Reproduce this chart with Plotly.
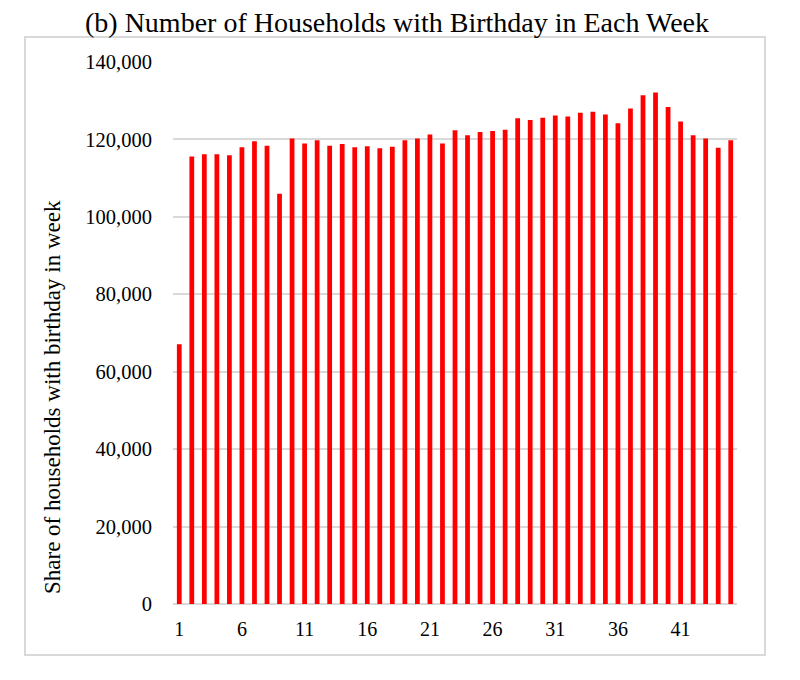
import plotly.graph_objects as go

weeks = [1, 2, 3, 4, 5, 6, 7, 8, 9, 10, 11, 12, 13, 14, 15, 16, 17, 18, 19, 20,
         21, 22, 23, 24, 25, 26, 27, 28, 29, 30, 31, 32, 33, 34, 35, 36, 37, 38, 39, 40,
         41, 42, 43, 44, 45]
households = [67100, 115600, 116200, 116200, 115900, 118000, 119500, 118350, 106000, 120250,
              118950, 119800, 118350, 118800, 118000, 118250, 117750, 118100, 119800, 120250,
              121300, 118950, 122400, 121050, 121900, 122150, 122500, 125450, 125000, 125600,
              126200, 125950, 126900, 127150, 126450, 124200, 128000, 131400, 132150, 128350,
              124650, 121050, 120250, 117850, 119800]
x_tick_vals = [1, 6, 11, 16, 21, 26, 31, 36, 41]
y_tick_vals = [0, 20000, 40000, 60000, 80000, 100000, 120000, 140000]

title_text = "(b) Number of Households with Birthday in Each Week"
y_title_text = "Share of households with birthday in week"

FONT = "Liberation Serif, Times New Roman, serif"
GRID = "#d9d9d9"

W, H = 792, 672
L, T = 165, 54
PW, PH = 564, 542

fig = go.Figure()
fig.add_trace(go.Bar(
    x=weeks, y=households,
    marker=dict(color="#ff0000", line=dict(width=0)),
    hoverinfo="x+y",
))

fig.update_layout(
    width=W, height=H,
    margin=dict(l=L, r=W - L - PW, t=T, b=H - T - PH),
    paper_bgcolor="white", plot_bgcolor="white",
    bargap=0.62,
    showlegend=False,
    font=dict(family=FONT, color="#000000", size=20),
    title=dict(text=title_text, x=389 / W, xanchor="center", xref="container",
               y=1 - 14 / H, yanchor="middle", yref="container",
               font=dict(family=FONT, size=28, color="#000000")),
    xaxis=dict(range=[0.5, 45.5], tickmode="array", tickvals=x_tick_vals,
               ticktext=[str(v) for v in x_tick_vals],
               showgrid=False, zeroline=False, showline=False,
               ticks="outside", ticklen=7, tickcolor="rgba(0,0,0,0)",
               tickfont=dict(family=FONT, size=20, color="#000000")),
    yaxis=dict(range=[0, 140000], tickmode="array", tickvals=y_tick_vals,
               tickformat=",", showgrid=True, gridcolor=GRID, gridwidth=2,
               zeroline=True, zerolinecolor=GRID, zerolinewidth=2, showline=False,
               ticks="outside", ticklen=16, tickcolor="rgba(0,0,0,0)",
               tickfont=dict(family=FONT, size=20.5, color="#000000")),
    shapes=[dict(type="rect", xref="paper", yref="paper",
                 x0=(17 - L) / PW, x1=(757 - L) / PW,
                 y0=(T + PH - 647) / PH, y1=(T + PH - 29) / PH,
                 line=dict(color=GRID, width=2), fillcolor="rgba(0,0,0,0)",
                 layer="below")],
    annotations=[dict(text=y_title_text, xref="paper", yref="paper",
                      x=(44 - L) / PW, y=(T + PH - 389) / PH,
                      xanchor="center", yanchor="middle", textangle=-90,
                      showarrow=False,
                      font=dict(family=FONT, size=23, color="#000000"))],
)

fig.write_html("out.html")
